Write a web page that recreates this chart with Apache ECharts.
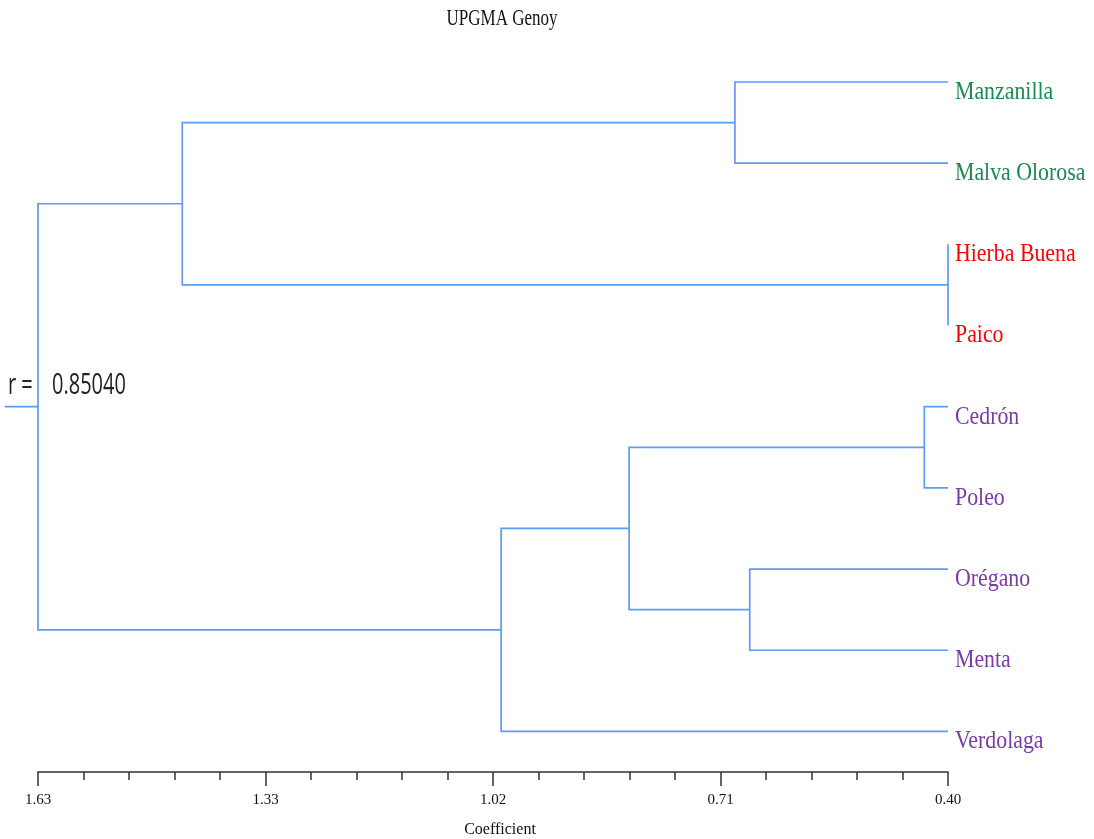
<!DOCTYPE html>
<html><head><meta charset="utf-8">
<script src="https://cdn.jsdelivr.net/npm/echarts@6/dist/echarts.min.js"></script>
<style>html,body{margin:0;padding:0;background:#fff}#c{width:1094px;height:839px}</style>
</head><body><div id="c"></div>
<script>
// ---- data ----
const leaves = ['Manzanilla','Malva Olorosa','Hierba Buena','Paico','Cedrón','Poleo','Orégano','Menta','Verdolaga'];
const leafColors = ['#1b8a4f','#1b8a4f','#ff0000','#ff0000','#7a3aa6','#7a3aa6','#7a3aa6','#7a3aa6','#7a3aa6'];
// merges: node indices 0-8 are leaves, 9+ are merge results in order
const mergeLeft   = [0, 2, 9, 4, 6, 12, 14, 11];
const mergeRight  = [1, 3, 10, 5, 7, 13, 8, 15];
const mergeHeight = [0.688, 0.40, 1.435, 0.432, 0.668, 0.831, 1.004, 1.63];
const axisMin = 0.40, axisMax = 1.63;
const tickLabels = ['0.40','0.71','1.02','1.33','1.63'];
const rootStub = 1.675;
const copheneticR = '0.85040';

// ---- build tree geometry in data units ----
const nodeX = leaves.map(() => axisMin);
const nodeY = leaves.map((_, i) => i);
const branchData = [];
mergeLeft.forEach((l, k) => {
  const r = mergeRight[k], h = mergeHeight[k];
  branchData.push([nodeX[l], nodeY[l], nodeX[r], nodeY[r], h]);
  nodeX.push(h);
  nodeY.push((nodeY[l] + nodeY[r]) / 2);
});
const rootHeight = mergeHeight[mergeHeight.length - 1];
const stubY = (leaves.length - 1) / 2;
const leafData = leaves.map((n, i) => [axisMin, i]);

const step = (axisMax - axisMin) / 4;
const majorTicks = [0,1,2,3,4].map(i => axisMin + i * step);
const minorTicks = [];
for (let i = 0; i <= 20; i++) minorTicks.push(axisMin + i * step / 5);

const lineColor = '#5b9cf6';
const gridBox = { left: 38, right: 146, top: 82, bottom: 67, outerBoundsMode: 'none', containLabel: false };

const chart = echarts.init(document.getElementById('c'));
chart.setOption({
  animation: false,
  backgroundColor: '#fff',
  grid: [Object.assign({}, gridBox), Object.assign({}, gridBox)],
  xAxis: [{
    gridIndex: 0, type: 'value', min: axisMin, max: axisMax, inverse: true, position: 'bottom',
    splitLine: { show: false },
    axisLine: { show: true, onZero: false, lineStyle: { color: '#333', width: 1.5 } },
    axisTick: { show: true, customValues: majorTicks, length: 14, lineStyle: { color: '#333', width: 1.5 } },
    axisLabel: {
      customValues: majorTicks, margin: 21,
      fontFamily: 'Liberation Serif', fontSize: 15, color: '#111',
      formatter: v => {
        let best = 0;
        majorTicks.forEach((t, i) => { if (Math.abs(t - v) < Math.abs(majorTicks[best] - v)) best = i; });
        return tickLabels[best];
      }
    },
    name: 'Coefficient', nameLocation: 'middle', nameGap: 50,
    nameTextStyle: { fontFamily: 'Liberation Serif', fontSize: 16, color: '#111', padding: [0, 0, 0, 14] }
  }, {
    gridIndex: 1, type: 'value', min: axisMin, max: axisMax, inverse: true, position: 'bottom',
    splitLine: { show: false },
    axisLine: { show: false, onZero: false },
    axisTick: { show: true, customValues: minorTicks, length: 8, lineStyle: { color: '#333', width: 1.5 } },
    axisLabel: { show: false }
  }],
  yAxis: [
    { gridIndex: 0, type: 'value', min: 0, max: 8.5, inverse: true, show: false },
    { gridIndex: 1, type: 'value', min: 0, max: 8.5, inverse: true, show: false }
  ],
  graphic: [
    { type: 'text', x: 502, y: 19, scaleY: 1.3,
      style: { text: 'UPGMA Genoy', font: '17px "Liberation Serif"', fill: '#111', align: 'center', verticalAlign: 'middle' } },
    { type: 'text', x: 8, y: 386, scaleY: 1.45,
      style: { text: 'r =', font: '20px "Open Sans"', fill: '#222', verticalAlign: 'middle' } },
    { type: 'text', x: 52, y: 386, scaleY: 1.45,
      style: { text: copheneticR, font: '20px "Open Sans"', fill: '#222', verticalAlign: 'middle' } }
  ],
  series: [{
    type: 'custom', coordinateSystem: 'cartesian2d', xAxisIndex: 0, yAxisIndex: 0, clip: false,
    data: branchData,
    renderItem: (params, api) => {
      const a = api.coord([api.value(0), api.value(1)]);
      const b = api.coord([api.value(4), api.value(1)]);
      const c = api.coord([api.value(4), api.value(3)]);
      const d = api.coord([api.value(2), api.value(3)]);
      return { type: 'polyline', shape: { points: [a, b, c, d] },
        style: { stroke: lineColor, lineWidth: 1.7, fill: null } };
    }
  }, {
    type: 'custom', coordinateSystem: 'cartesian2d', xAxisIndex: 0, yAxisIndex: 0, clip: false,
    data: [[rootHeight, stubY, rootStub]],
    renderItem: (params, api) => {
      const a = api.coord([api.value(0), api.value(1)]);
      const b = api.coord([api.value(2), api.value(1)]);
      return { type: 'line', shape: { x1: a[0], y1: a[1], x2: b[0], y2: b[1] },
        style: { stroke: lineColor, lineWidth: 1.7 } };
    }
  }, {
    type: 'custom', coordinateSystem: 'cartesian2d', xAxisIndex: 0, yAxisIndex: 0, clip: false,
    data: leafData,
    renderItem: (params, api) => {
      const p = api.coord([api.value(0), api.value(1)]);
      const i = params.dataIndex;
      return { type: 'text', x: p[0] + 7, y: p[1] + 10, scaleX: 0.84,
        style: { text: leaves[i], fill: leafColors[i], fontFamily: 'Liberation Serif', fontSize: 26,
          verticalAlign: 'middle', align: 'left' } };
    }
  }]
});
</script>
</body></html>
